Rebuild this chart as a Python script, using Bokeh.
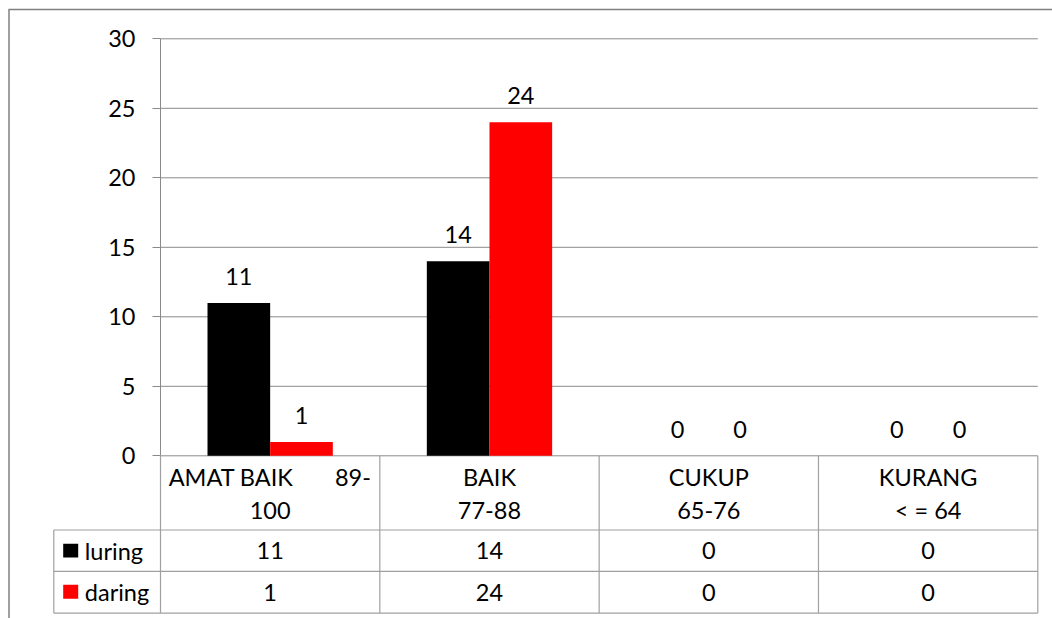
from bokeh.plotting import figure
from bokeh.models import Range1d, LinearAxis, FixedTicker, ColumnDataSource
from bokeh.core.properties import value
from bokeh.embed import file_html
from bokeh.resources import INLINE

# ---------------- data ----------------
categories = ["AMAT BAIK 89-100", "BAIK 77-88", "CUKUP 65-76", "KURANG < = 64"]
cat_line1 = ["AMAT BAIK" + "\u00a0" * 7 + "89-", "BAIK", "CUKUP", "KURANG"]
cat_line2 = ["100", "77-88", "65-76", "< = 64"]
series_names = ["luring", "daring"]
luring = [11, 14, 0, 0]
daring = [1, 24, 0, 0]
series_colors = ["#000000", "#FF0000"]
y_ticks = [0, 5, 10, 15, 20, 25, 30]

# ---------------- layout (page pixels) ----------------
W, H = 1052, 618
ORG_X, ORG_Y = 0, 0
PLOT_L, PLOT_R = 160.0, 1037.3
Y0_PX, YTOP_PX = 455.3, 38.3
N = len(categories)
CAT_W = (PLOT_R - PLOT_L) / N
CAT0_C = PLOT_L + CAT_W / 2
PPU = (Y0_PX - YTOP_PX) / max(y_ticks)
BAR_W = 1 / 3.5
FONT = value("Lato")
FS = "23.5px"
GRID = "#8a8a8a"
TBL = "#a0a0a0"

x_start = (ORG_X - CAT0_C) / CAT_W
x_end = (ORG_X + W - CAT0_C) / CAT_W
y_start = (Y0_PX - (ORG_Y + H)) / PPU
y_end = (Y0_PX - ORG_Y) / PPU

p = figure(width=W, height=H, x_range=Range1d(x_start, x_end), y_range=Range1d(y_start, y_end),
           output_backend="svg", toolbar_location=None, x_axis_location=None, y_axis_location=None,
           min_border=0, outline_line_color=None, background_fill_color="white")
p.grid.visible = False
p.extra_x_ranges = {"px": Range1d(ORG_X, ORG_X + W)}
p.extra_y_ranges = {"px": Range1d(ORG_Y + H, ORG_Y)}

# y axis at the left edge of the plot area
yax = LinearAxis(fixed_location=-0.5, bounds=(0, max(y_ticks)), ticker=FixedTicker(ticks=y_ticks),
                 major_tick_out=8, major_tick_in=0, minor_tick_out=0, minor_tick_in=0,
                 axis_line_color=GRID, major_tick_line_color=GRID,
                 major_label_text_font="Lato", major_label_text_font_size=FS,
                 major_label_standoff=17, major_label_text_color="black")
p.add_layout(yax, "left")

# gridlines
p.segment(x0=[-0.5] * len(y_ticks), x1=[N - 0.5] * len(y_ticks), y0=y_ticks, y1=y_ticks,
          line_color=GRID, line_width=1)

# bars
idx = list(range(N))
for k, (vals, col) in enumerate(zip([luring, daring], series_colors)):
    xs = [i + (k - 0.5) * BAR_W for i in idx]
    src = ColumnDataSource(dict(x=xs, top=vals, lab=[str(v) for v in vals]))
    p.vbar(x="x", top="top", width=BAR_W, source=src, fill_color=col, line_color=None)
    p.text(x="x", y="top", text="lab", source=src, text_align="center", text_baseline="middle",
           y_offset=-26.5, text_font=FONT, text_font_size=FS, text_color="black")

# ---------------- data table ----------------
ROW_TOP = [Y0_PX, 529.5, 570.8]
ROW_BOT = 612.6
LEG_L = 53.3
col_edges = [PLOT_L + i * CAT_W for i in range(N + 1)]

# horizontal lines
p.segment(x0=[LEG_L] * 3, x1=[PLOT_R] * 3, y0=ROW_TOP[1:] + [ROW_BOT], y1=ROW_TOP[1:] + [ROW_BOT],
          x_range_name="px", y_range_name="px", line_color=TBL, line_width=1.2)
# vertical lines
p.segment(x0=col_edges + [LEG_L], x1=col_edges + [LEG_L],
          y0=[Y0_PX] * (N + 1) + [ROW_TOP[1]], y1=[ROW_BOT] * (N + 2),
          x_range_name="px", y_range_name="px", line_color=TBL, line_width=1.2)

# category header text
p.text(x=idx, y=[476] * N, text=cat_line1, y_range_name="px", text_align="center",
       text_baseline="middle", text_font=FONT, text_font_size=FS, text_color="black")
p.text(x=idx, y=[509.5] * N, text=cat_line2, y_range_name="px", text_align="center",
       text_baseline="middle", text_font=FONT, text_font_size=FS, text_color="black")

# value rows
row_mid = [550, 591.5]
for vals, ym in zip([luring, daring], row_mid):
    p.text(x=idx, y=[ym] * N, text=[str(v) for v in vals], y_range_name="px", text_align="center",
           text_baseline="middle", text_font=FONT, text_font_size=FS, text_color="black")

# legend keys and names
p.quad(left=[62.7, 62.7], right=[77.7, 77.7], top=[543.3, 584.3], bottom=[557.0, 598.3],
       x_range_name="px", y_range_name="px", fill_color=series_colors, line_color=None)
p.text(x=[84.3, 84.3], y=row_mid, text=series_names, x_range_name="px", y_range_name="px",
       text_align="left", text_baseline="middle", text_font=FONT, text_font_size=FS, text_color="black")

# outer chart border (left and top)
p.segment(x0=[8.5, 8], x1=[8.5, ORG_X + W], y0=[9, 9], y1=[ORG_Y + H, 9],
          x_range_name="px", y_range_name="px", line_color="#808080", line_width=1.5)

open("out.html", "w").write(file_html(p, INLINE))
